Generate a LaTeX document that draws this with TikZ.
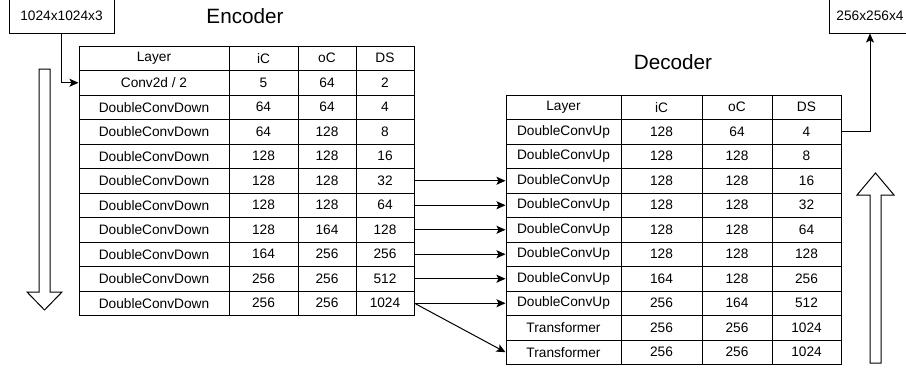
\documentclass[tikz,border=0pt]{standalone}
\usepackage{fontspec}
\setmainfont{Liberation Sans}
\usetikzlibrary{arrows.meta}
\tikzset{every path/.style={black,line width=1pt},
  cell/.style={draw, rectangle, inner sep=0pt, minimum height=24.5pt, font=\fontsize{13.7}{16}\selectfont},
  iobox/.style={draw, rectangle, inner sep=0pt, minimum height=34pt, font=\fontsize{13.7}{16}\selectfont},
  title/.style={inner sep=0pt, font=\fontsize{20.7}{24}\selectfont},
  conn/.style={-{Stealth[length=9pt,width=8pt,inset=2pt]}}}

\begin{document}
\begin{tikzpicture}[x=1pt,y=-1pt]
       \useasboundingbox (0,0) rectangle (906,370);
       % encoder
       \node[title] (enctitle) at (245,16) {Encoder};
       \foreach \ly/\ic/\oc/\ds [count=\r from 0] in {Layer/iC/oC/DS, {Conv2d / 2}/5/64/2,
           DoubleConvDown/64/64/4, DoubleConvDown/64/128/8, DoubleConvDown/128/128/16,
           DoubleConvDown/128/128/32, DoubleConvDown/128/128/64, DoubleConvDown/128/164/128,
           DoubleConvDown/164/256/256, DoubleConvDown/256/256/512, DoubleConvDown/256/256/1024}{
        \node[cell, minimum width=150pt] (enc-\r-1) at (154,{58.25+24.5*\r}) {\ly};
        \node[cell, minimum width=69pt] (enc-\r-2) at (263.5,{58.25+24.5*\r}) {\ic};
        \node[cell, minimum width=58pt] (enc-\r-3) at (327,{58.25+24.5*\r}) {\oc};
        \node[cell, minimum width=58pt] (enc-\r-4) at (385,{58.25+24.5*\r}) {\ds};
       }
       % decoder
       \node[title] (dectitle) at (673,62) {Decoder};
       \foreach \ly/\ic/\oc/\ds [count=\r from 0] in {Layer/iC/oC/DS,
           DoubleConvUp/128/64/4, DoubleConvUp/128/128/8, DoubleConvUp/128/128/16,
           DoubleConvUp/128/128/32, DoubleConvUp/128/128/64, DoubleConvUp/128/128/128,
           DoubleConvUp/164/128/256, DoubleConvUp/256/164/512,
           Transformer/256/256/1024, Transformer/256/256/1024}{
        \node[cell, minimum width=115pt] (dec-\r-1) at (563.5,{107.25+24.5*\r}) {\ly};
        \node[cell, minimum width=81pt] (dec-\r-2) at (661.5,{107.25+24.5*\r}) {\ic};
        \node[cell, minimum width=70pt] (dec-\r-3) at (737,{107.25+24.5*\r}) {\oc};
        \node[cell, minimum width=69pt] (dec-\r-4) at (806.5,{107.25+24.5*\r}) {\ds};
       }
       % input and output
       \node[iobox, minimum width=105pt] (inbox) at (61.5,16) {1024x1024x3};
       \node[iobox, minimum width=82pt] (outbox) at (870,16) {256x256x4};
       \draw[conn] (inbox.south) |- (enc-1-1.west);
       \draw[conn] (dec-1-4.east) -| (outbox.south);
       % skip connections
       \foreach \k [evaluate=\k as \j using int(\k-2)] in {5,...,10}
        \draw[conn] (enc-\k-4.east) -- (dec-\j-1.west);
       \draw[conn] (enc-10-4.east) -- (dec-10-1.west);
       % direction arrows
       \draw (39,69) -- (50,69) -- (50,292) -- (62,292) -- (44.5,310) -- (27,292) -- (39,292) -- cycle;
       \draw (870,363) -- (881,363) -- (881,195) -- (894,195) -- (875.5,173) -- (857,195) -- (870,195) -- cycle;
      \end{tikzpicture}
\end{document}
